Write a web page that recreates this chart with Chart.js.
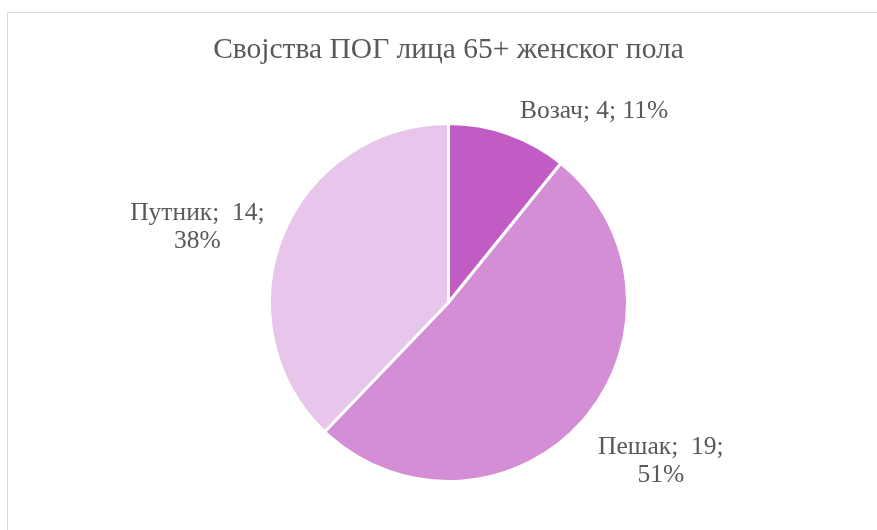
<!DOCTYPE html>
<html>
<head>
<meta charset="utf-8">
<script src="https://cdn.jsdelivr.net/npm/chart.js@4.4.0/dist/chart.umd.min.js"></script>
<style>
  html, body { margin: 0; padding: 0; background: #ffffff; }
  #frame {
    position: absolute; left: 7px; top: 12px; width: 900px; height: 540px;
    border: 1px solid #d9d9d9; box-sizing: border-box;
  }
  #wrap { position: absolute; left: 0; top: 0; width: 877px; height: 530px; }
</style>
</head>
<body>
<div id="frame"></div>
<div id="wrap"><canvas id="pieChart" width="877" height="530"></canvas></div>
<script>
const categories = ['Возач', 'Пешак', 'Путник'];
const values = [4, 19, 14];
const sliceColors = ['#c05cc3', '#d38ed6', '#e8c5ea'];
const chartTitle = 'Својства ПОГ лица 65+ женског пола';

// where each data label sits relative to the outer edge of its slice
const labelLayout = [
    { dx: 86, dy: -22, wrap: false },
    { dx: 78, dy: 41, wrap: true },
    { dx: -85, dy: -8, wrap: true }
];

const total = values.reduce((a, b) => a + b, 0);

const pieLabels = {
    id: 'pieLabels',
    afterDatasetsDraw(chart) {
        const ctx = chart.ctx;
        const meta = chart.getDatasetMeta(0);
        ctx.save();
        ctx.font = '25.5px "Liberation Serif", "Times New Roman", serif';
        ctx.fillStyle = '#595959';
        ctx.textAlign = 'center';
        ctx.textBaseline = 'middle';
        const lineHeight = 28;
        meta.data.forEach((arc, i) => {
            const p = arc.getProps(['x', 'y', 'startAngle', 'endAngle', 'outerRadius'], true);
            const mid = (p.startAngle + p.endAngle) / 2;
            const ax = p.x + Math.cos(mid) * p.outerRadius;
            const ay = p.y + Math.sin(mid) * p.outerRadius;
            const pct = Math.round(values[i] / total * 100) + '%';
            const layout = labelLayout[i];
            const lines = layout.wrap
                ? [categories[i] + ';  ' + values[i] + ';', pct]
                : [categories[i] + '; ' + values[i] + '; ' + pct];
            const cx = ax + layout.dx;
            const cy = ay + layout.dy;
            const top = cy - (lines.length - 1) * lineHeight / 2;
            lines.forEach((line, k) => {
                ctx.fillText(line, cx, top + k * lineHeight);
            });
        });
        ctx.restore();
    }
};

new Chart(document.getElementById('pieChart').getContext('2d'), {
    type: 'pie',
    data: {
        labels: categories,
        datasets: [{
            data: values,
            backgroundColor: sliceColors,
            borderColor: '#ffffff',
            borderWidth: 3,
            hoverOffset: 0
        }]
    },
    options: {
        responsive: false,
        animation: false,
        layout: {
            padding: { top: 0, bottom: 47, left: 20, right: 0 }
        },
        plugins: {
            legend: { display: false },
            tooltip: { enabled: false },
            title: {
                display: true,
                text: chartTitle,
                color: '#595959',
                font: { family: '"Liberation Serif", "Times New Roman", serif', size: 29.5, weight: 'normal', lineHeight: 1.2 },
                padding: { top: 33, bottom: 53.6 }
            }
        }
    },
    plugins: [pieLabels]
});
</script>
</body>
</html>
